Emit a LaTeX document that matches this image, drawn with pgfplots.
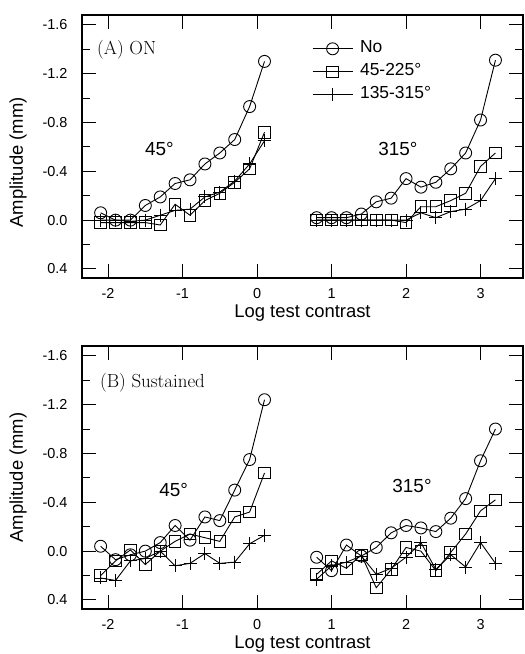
\documentclass[border=0pt]{standalone}
\usepackage{pgfplots}
\pgfplotsset{compat=1.18}
\usepackage{fontspec}
\setsansfont{Liberation Sans}
\newcommand\tickfont{\sffamily\fontsize{14.5}{16}\selectfont}
\newcommand\labfont{\sffamily\fontsize{18.5}{21}\selectfont}
\newcommand\legfont{\sffamily\fontsize{17.5}{20}\selectfont}
\newcommand\annfont{\sffamily\fontsize{19}{21}\selectfont}
\newcommand\panfont{\rmfamily\fontsize{19}{21}\selectfont}
\pgfplotsset{
  myax/.style={
    scale only axis, width=441bp, height=263bp,
    xmin=-2.35, xmax=3.57, ymin=-1.68, ymax=0.474, y dir=reverse,
    xtick={-2,-1,0,1,2,3}, xticklabels={-2,-1,0,1,2,3},
    ytick={-1.6,-1.2,-0.8,-0.4,0,0.4},
    yticklabels={-1.6,-1.2,-0.8,-0.4,0.0,0.4},
    minor ytick={-1.4,-1.0,-0.6,-0.2,0.2},
    major tick length=14bp, minor tick length=8bp,
    tick style={line width=1bp, black},
    axis line style={line width=1.2bp},
    ticklabel style={font=\tickfont},
    xticklabel style={yshift=-7bp},
    yticklabel style={xshift=-11bp},
    xlabel={Log test contrast},
    xlabel style={font=\labfont, at={(axis description cs:0.5,-0.135)}, anchor=center},
    ylabel={Amplitude (mm)},
    ylabel style={font=\labfont, anchor=center},
    clip=false,
  },
  sNo/.style={black, line width=0.9bp, mark=o, mark size=6bp, mark options={line width=0.9bp}},
  sSq/.style={black, line width=0.9bp, mark=square, mark size=5.8bp, mark options={line width=0.9bp}},
  sPl/.style={black, line width=0.9bp, mark=+, mark size=6.5bp, mark options={line width=0.9bp}},
}
\begin{document}
\begin{tikzpicture}
\path[use as bounding box] (0,0) rectangle (525bp,-654bp);
% ---------- (A) ON ----------
\begin{axis}[myax, at={(82bp,-278bp)}, anchor=south west,
  ylabel style={at={(axis description cs:-0.145,0.44)}},
  legend style={at={(axis description cs:0.5215,0.916)}, anchor=north west,
    draw=none, fill=none, inner sep=0pt, font=\legfont, row sep=0pt,
    nodes={inner sep=2bp, text height=13bp, text depth=6bp, anchor=west}},
  legend cell align=left,
  legend image code/.code={\draw[#1, mark repeat=2, mark phase=2] plot coordinates {(0bp,0bp) (20bp,0bp) (40bp,0bp)};},
  /tikz/every odd column/.append style={column sep=5bp},
]
\addplot[sNo] coordinates {(-2.1,-0.06)(-1.9,0.0)(-1.7,0.0)(-1.5,-0.12)(-1.3,-0.19)(-1.1,-0.30)(-0.9,-0.33)(-0.7,-0.46)(-0.5,-0.55)(-0.3,-0.66)(-0.1,-0.93)(0.1,-1.30)};
\addlegendentry{No}
\addplot[sSq] coordinates {(-2.1,0.02)(-1.9,0.02)(-1.7,0.02)(-1.5,0.02)(-1.3,0.04)(-1.1,-0.13)(-0.9,-0.04)(-0.7,-0.16)(-0.5,-0.22)(-0.3,-0.31)(-0.1,-0.42)(0.1,-0.72)};
\addlegendentry{45-225°}
\addplot[sPl] coordinates {(-2.1,0.0)(-1.9,0.0)(-1.7,0.01)(-1.5,0.0)(-1.3,-0.04)(-1.1,-0.08)(-0.9,-0.09)(-0.7,-0.19)(-0.5,-0.23)(-0.3,-0.32)(-0.1,-0.46)(0.1,-0.65)};
\addlegendentry{135-315°}
\addplot[sNo, forget plot] coordinates {(0.8,-0.02)(1.0,-0.02)(1.2,-0.02)(1.4,-0.05)(1.6,-0.15)(1.8,-0.18)(2.0,-0.34)(2.2,-0.27)(2.4,-0.31)(2.6,-0.42)(2.8,-0.55)(3.0,-0.82)(3.2,-1.31)};
\addplot[sSq, forget plot] coordinates {(0.8,0.0)(1.0,0.0)(1.2,0.0)(1.4,0.0)(1.6,0.0)(1.8,0.0)(2.0,0.02)(2.2,-0.11)(2.4,-0.11)(2.6,-0.16)(2.8,-0.22)(3.0,-0.44)(3.2,-0.55)};
\addplot[sPl, forget plot] coordinates {(0.8,0.0)(1.0,0.0)(1.2,0.0)(1.4,0.0)(1.6,0.0)(1.8,0.0)(2.0,0.0)(2.2,-0.06)(2.4,-0.02)(2.6,-0.07)(2.8,-0.09)(3.0,-0.16)(3.2,-0.34)};
\node[anchor=west, font=\panfont, inner sep=0pt] at (axis cs:-2.148,-1.395) {(A) ON};
\node[font=\annfont] at (axis cs:-1.31,-0.58) {45°};
\node[font=\annfont] at (axis cs:1.89,-0.58) {315°};
\end{axis}
% ---------- (B) Sustained ----------
\begin{axis}[myax, at={(82bp,-609bp)}, anchor=south west,
  ylabel style={at={(axis description cs:-0.145,0.5)}},
]
\addplot[sNo] coordinates {(-2.1,-0.04)(-1.9,0.07)(-1.7,0.03)(-1.5,0.0)(-1.3,-0.07)(-1.1,-0.21)(-0.9,-0.09)(-0.7,-0.28)(-0.5,-0.25)(-0.3,-0.50)(-0.1,-0.75)(0.1,-1.24)};
\addplot[sSq] coordinates {(-2.1,0.20)(-1.9,0.08)(-1.7,-0.01)(-1.5,0.11)(-1.3,0.0)(-1.1,-0.08)(-0.9,-0.14)(-0.7,-0.11)(-0.5,-0.08)(-0.3,-0.28)(-0.1,-0.32)(0.1,-0.64)};
\addplot[sPl] coordinates {(-2.1,0.22)(-1.9,0.24)(-1.7,0.08)(-1.5,0.06)(-1.3,0.0)(-1.1,0.12)(-0.9,0.10)(-0.7,0.02)(-0.5,0.10)(-0.3,0.09)(-0.1,-0.06)(0.1,-0.13)};
\addplot[sNo] coordinates {(0.8,0.05)(1.0,0.16)(1.2,-0.05)(1.4,0.04)(1.6,-0.03)(1.8,-0.15)(2.0,-0.21)(2.2,-0.19)(2.4,-0.16)(2.6,-0.27)(2.8,-0.43)(3.0,-0.74)(3.2,-1.00)};
\addplot[sSq] coordinates {(0.8,0.19)(1.0,0.08)(1.2,0.14)(1.4,0.03)(1.6,0.30)(1.8,0.15)(2.0,-0.03)(2.2,0.0)(2.4,0.16)(2.6,0.01)(2.8,-0.14)(3.0,-0.33)(3.2,-0.42)};
\addplot[sPl] coordinates {(0.8,0.23)(1.0,0.12)(1.2,0.09)(1.4,0.04)(1.6,0.19)(1.8,0.14)(2.0,0.05)(2.2,-0.07)(2.4,0.15)(2.6,0.03)(2.8,0.13)(3.0,-0.07)(3.2,0.10)};
\node[anchor=west, font=\panfont, inner sep=0pt] at (axis cs:-2.11,-1.38) {(B) Sustained};
\node[font=\annfont] at (axis cs:-1.12,-0.50) {45°};
\node[font=\annfont] at (axis cs:2.08,-0.53) {315°};
\end{axis}
\end{tikzpicture}
\end{document}
